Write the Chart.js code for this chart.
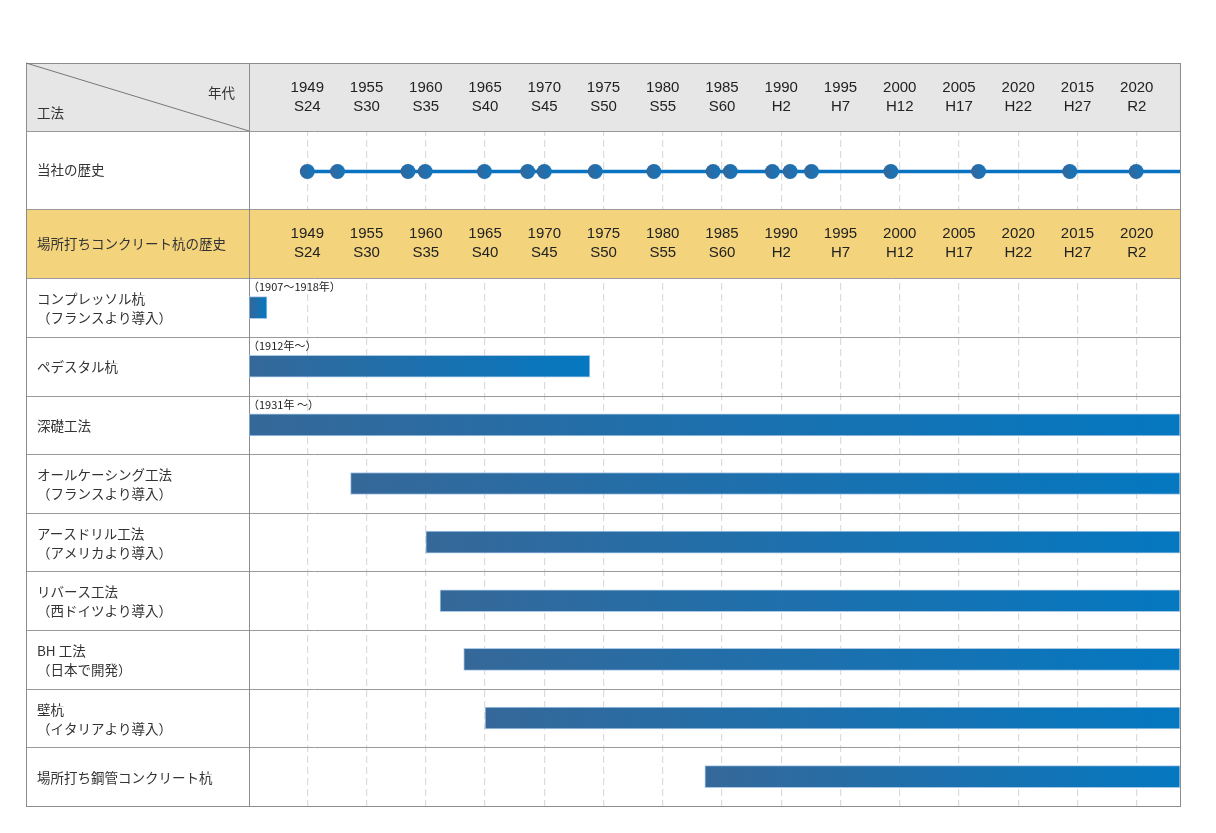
<!DOCTYPE html>
<html lang="ja">
<head>
<meta charset="utf-8">
<title>場所打ちコンクリート杭の歴史</title>
<script src="https://cdn.jsdelivr.net/npm/chart.js@4/dist/chart.umd.min.js"></script>
<style>
  html, body { margin: 0; padding: 0; background: #fff; }
  #wrap { position: relative; width: 1216px; height: 833px; }
</style>
</head>
<body>
<div id="wrap"><canvas id="timeline"></canvas></div>
<script>
// column labels (the axis is evenly spaced by period, not by year)
const periods = ['1949', '1955', '1960', '1965', '1970', '1975', '1980', '1985',
  '1990', '1995', '2000', '2005', '2020', '2015', '2020'];
const eras = ['S24', 'S30', 'S35', 'S40', 'S45', 'S50', 'S55', 'S60',
  'H2', 'H7', 'H12', 'H17', 'H22', 'H27', 'R2'];

// 当社の歴史: event positions, in period columns
const historyPoints = [0, 0.51, 1.7, 1.99, 2.99, 3.72, 4.0, 4.86, 5.85,
  6.85, 7.14, 7.85, 8.15, 8.51, 9.85, 11.33, 12.87, 13.99];

const methods = [
  'コンプレッソル杭\n（フランスより導入）',
  'ペデスタル杭',
  '深礎工法',
  'オールケーシング工法\n（フランスより導入）',
  'アースドリル工法\n（アメリカより導入）',
  'リバース工法\n（西ドイツより導入）',
  'BH 工法\n（日本で開発）',
  '壁杭\n（イタリアより導入）',
  '場所打ち鋼管コンクリート杭'
];
// null = runs past the edge of the table
const barStarts = [null, null, null, 0.73, 2.0, 2.24, 2.64, 3.0, 6.71];
const barEnds = [-0.68, 4.77, null, null, null, null, null, null, null];
const barNotes = ['（1907～1918年）', '（1912年～）', '（1931年 ～）', '', '', '', '', '', ''];

// layout
const X_MIN = -0.984, X_MAX = 14.73;
const HEADER_H = 68, HISTORY_H = 78, BAND_H = 69.3, ROW_H = 58.65;
const TOTAL_H = HEADER_H + HISTORY_H + BAND_H + ROW_H * methods.length;
const LEFT = 26;
const JP = '"Noto Sans CJK JP", "Noto Sans", sans-serif';
const NUM = '"Liberation Sans", Arial, sans-serif';

const rowCenter = i => HEADER_H + HISTORY_H + BAND_H + ROW_H * (i + 0.5);
const historyY = HEADER_H + HISTORY_H / 2 + 1.5;

function hGradient(ctx, x0, x1, c0, c1) {
  const g = ctx.createLinearGradient(x0, 0, x1, 0);
  g.addColorStop(0, c0);
  g.addColorStop(1, c1);
  return g;
}

const barColor = (c) => {
  const chart = c.chart;
  if (!chart.chartArea || !c.raw) return '#2a6fa8';
  const sx = chart.scales.x;
  const [a, b] = c.raw.x;
  return hGradient(chart.ctx, sx.getPixelForValue(a), sx.getPixelForValue(b), '#356899', '#0478c1');
};

const dotColor = (c) => {
  const chart = c.chart;
  if (!chart.chartArea || !c.raw) return '#2a6fa8';
  const px = chart.scales.x.getPixelForValue(c.raw.x);
  return hGradient(chart.ctx, px - 7, px + 7, '#33679b', '#1675ba');
};

const tablePlugin = {
  id: 'table',
  beforeDatasetsDraw(chart) {
    const { ctx, chartArea: area, scales: { x, y } } = chart;
    const right = area.right;
    const py = v => y.getPixelForValue(v);
    const top = py(0), headBot = py(HEADER_H), histBot = py(HEADER_H + HISTORY_H);
    const bandBot = py(HEADER_H + HISTORY_H + BAND_H), bottom = py(TOTAL_H);

    ctx.save();
    // header and band fills cover the dashed grid
    ctx.fillStyle = '#e6e6e6';
    ctx.fillRect(LEFT, top, right - LEFT, headBot - top);
    ctx.fillStyle = '#f3d37c';
    ctx.fillRect(LEFT, histBot, right - LEFT, bandBot - histBot);

    // row lines
    ctx.strokeStyle = '#9a9a9a';
    ctx.lineWidth = 1;
    const lines = [headBot, histBot, bandBot];
    for (let i = 1; i < methods.length; i++) lines.push(py(HEADER_H + HISTORY_H + BAND_H + ROW_H * i));
    lines.forEach(v => {
      ctx.beginPath();
      ctx.moveTo(LEFT, Math.round(v) + 0.5);
      ctx.lineTo(right, Math.round(v) + 0.5);
      ctx.stroke();
    });

    // outer frame and column divider
    ctx.strokeStyle = '#8c8c8c';
    ctx.strokeRect(LEFT + 0.5, Math.round(top) + 0.5, right - LEFT, Math.round(bottom - top));
    ctx.beginPath();
    ctx.moveTo(Math.round(area.left) + 0.5, top);
    ctx.lineTo(Math.round(area.left) + 0.5, bottom);
    ctx.stroke();

    // diagonal in the corner cell
    ctx.strokeStyle = '#777';
    ctx.beginPath();
    ctx.moveTo(LEFT, top);
    ctx.lineTo(area.left, headBot);
    ctx.stroke();

    // corner and left column text
    ctx.fillStyle = '#333';
    ctx.font = '13.5px ' + JP;
    ctx.textBaseline = 'middle';
    ctx.textAlign = 'right';
    ctx.fillText('年代', 235, top + 30);
    ctx.textAlign = 'left';
    ctx.fillText('工法', 37, top + 50);
    ctx.fillText('当社の歴史', 37, (headBot + histBot) / 2);
    ctx.fillText('場所打ちコンクリート杭の歴史', 37, (histBot + bandBot) / 2);
    methods.forEach((m, i) => {
      const parts = m.split('\n');
      const cy = py(rowCenter(i)) + 1;
      parts.forEach((p, k) => {
        ctx.fillText(p, 37, cy + (k - (parts.length - 1) / 2) * 19);
      });
    });

    // period labels in the header and the yellow band
    ctx.fillStyle = '#222';
    ctx.font = '15px ' + NUM;
    ctx.textAlign = 'center';
    x.ticks.forEach((t, i) => {
      const px = x.getPixelForValue(t.value);
      [[top, headBot], [histBot, bandBot]].forEach(([a, b]) => {
        const cy = (a + b) / 2;
        ctx.fillText(periods[i], px, cy - 9.5);
        ctx.fillText(eras[i], px, cy + 9.5);
      });
    });

    // small date notes above the bars
    ctx.font = '11px ' + JP;
    ctx.textAlign = 'left';
    ctx.fillStyle = '#222';
    barNotes.forEach((n, i) => {
      if (!n) return;
      ctx.fillText(n, area.left - 1, py(rowCenter(i) - ROW_H / 2) + 9);
    });
    ctx.restore();
  }
};

new Chart(document.getElementById('timeline'), {
  type: 'bar',
  data: {
    datasets: [{
      type: 'bar',
      indexAxis: 'y',
      data: methods.map((m, i) => ({
        x: [barStarts[i] ?? X_MIN, barEnds[i] ?? X_MAX],
        y: rowCenter(i)
      })),
      backgroundColor: barColor,
      borderColor: 'rgba(160,195,228,0.9)',
      borderWidth: 1,
      borderSkipped: false,
      barThickness: 22
    }, {
      type: 'line',
      indexAxis: 'x',
      data: historyPoints.map(v => ({ x: v, y: historyY })).concat([{ x: X_MAX, y: historyY }]),
      borderColor: '#0a73c1',
      borderWidth: 3.5,
      pointRadius: c => (c.dataIndex < historyPoints.length ? 7.5 : 0),
      pointHoverRadius: 0,
      pointBorderWidth: 0,
      pointBackgroundColor: dotColor,
      order: -1
    }]
  },
  options: {
    responsive: true,
    maintainAspectRatio: false,
    animation: false,
    indexAxis: 'y',
    layout: { padding: { left: 249, top: 63, right: 36, bottom: 27 } },
    plugins: { legend: { display: false }, tooltip: { enabled: false } },
    scales: {
      x: {
        type: 'linear',
        min: X_MIN,
        max: X_MAX,
        offset: false,
        afterBuildTicks: s => { s.ticks = periods.map((p, i) => ({ value: i })); },
        afterFit: s => { s.height = 0; },
        ticks: { display: false },
        grid: { color: '#dcdcdc', lineWidth: 1.2, drawTicks: false },
        border: { display: false, dash: [7, 4] }
      },
      y: {
        type: 'linear',
        reverse: true,
        offset: false,
        min: 0,
        max: TOTAL_H,
        display: false
      }
    }
  },
  plugins: [tablePlugin]
});
</script>
</body>
</html>
